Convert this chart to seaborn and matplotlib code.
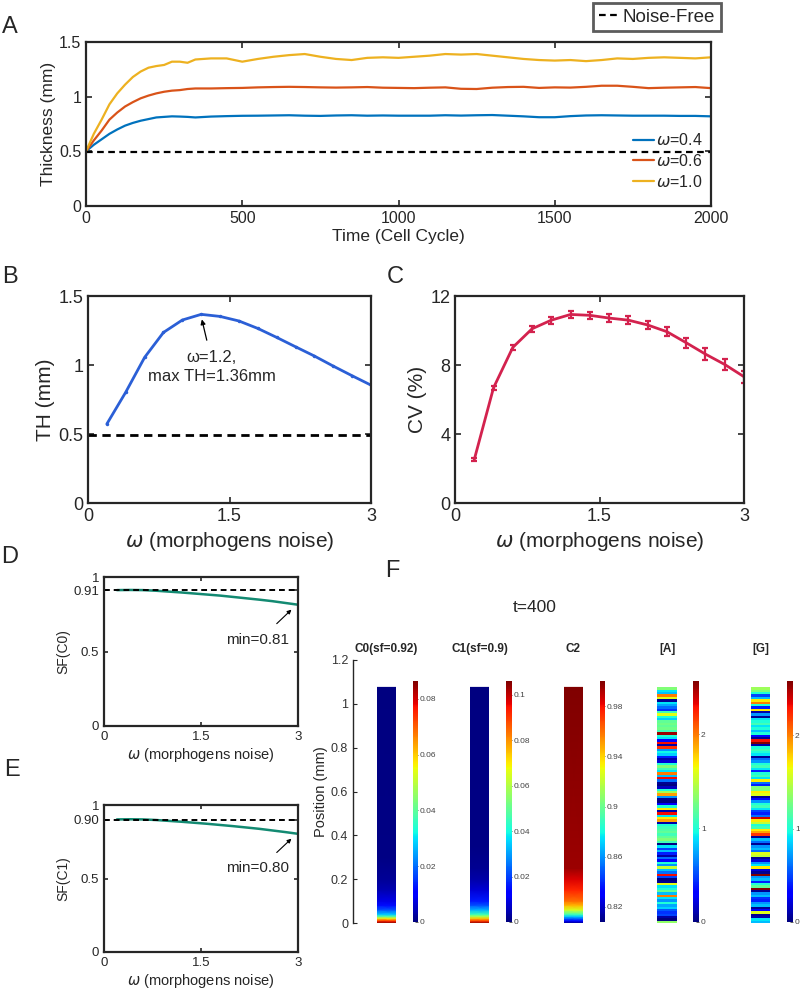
import numpy as np
import matplotlib
matplotlib.use('Agg')
import matplotlib.pyplot as plt
from matplotlib.lines import Line2D
from matplotlib.cm import ScalarMappable
from matplotlib.colors import Normalize
import seaborn as sns

# ─── Data ─────────────────────────────────────────────────────────────────────
# Panel A: thickness over time for three noise levels
time_a = [0, 25, 50, 75, 100, 125, 150, 175, 200, 225, 250, 275, 300, 325, 350,
          400, 450, 500, 550, 600, 650, 700, 750, 800, 850, 900, 950, 1000,
          1050, 1100, 1150, 1200, 1250, 1300, 1350, 1400, 1450, 1500, 1550,
          1600, 1650, 1700, 1750, 1800, 1850, 1900, 1950, 2000]
th_w04 = [0.50, 0.56, 0.61, 0.66, 0.70, 0.735, 0.76, 0.78, 0.795, 0.81, 0.815,
          0.82, 0.818, 0.815, 0.81, 0.818, 0.822, 0.825, 0.826, 0.828, 0.83,
          0.826, 0.824, 0.828, 0.83, 0.826, 0.828, 0.826, 0.826, 0.826, 0.83,
          0.827, 0.83, 0.832, 0.826, 0.82, 0.812, 0.812, 0.822, 0.828, 0.83,
          0.828, 0.826, 0.826, 0.826, 0.824, 0.824, 0.82]
th_w06 = [0.50, 0.60, 0.69, 0.79, 0.855, 0.91, 0.95, 0.985, 1.01, 1.03, 1.045,
          1.055, 1.06, 1.07, 1.075, 1.075, 1.078, 1.08, 1.085, 1.088, 1.09,
          1.088, 1.085, 1.083, 1.085, 1.088, 1.082, 1.08, 1.078, 1.082, 1.085,
          1.072, 1.07, 1.082, 1.088, 1.09, 1.08, 1.085, 1.083, 1.09, 1.10,
          1.10, 1.09, 1.078, 1.082, 1.085, 1.088, 1.078]
th_w10 = [0.50, 0.66, 0.79, 0.93, 1.03, 1.11, 1.18, 1.23, 1.265, 1.28, 1.29,
          1.32, 1.32, 1.31, 1.34, 1.35, 1.35, 1.32, 1.345, 1.365, 1.38, 1.39,
          1.365, 1.345, 1.335, 1.355, 1.36, 1.355, 1.365, 1.375, 1.39, 1.385,
          1.39, 1.375, 1.36, 1.345, 1.335, 1.33, 1.335, 1.325, 1.335, 1.35,
          1.345, 1.355, 1.36, 1.355, 1.35, 1.36]
noise_free_th = 0.49

# Panels B-E: sweep over omega
omega = [0.2, 0.4, 0.6, 0.8, 1.0, 1.2, 1.4, 1.6, 1.8, 2.0, 2.2, 2.4, 2.6, 2.8, 3.0]
th_mean = [0.573, 0.803, 1.055, 1.236, 1.326, 1.367, 1.352, 1.319, 1.265, 1.20,
           1.132, 1.065, 0.992, 0.922, 0.854]
cv_mean = [2.52, 6.68, 9.02, 10.10, 10.60, 10.93, 10.88, 10.72, 10.60, 10.32,
           9.93, 9.29, 8.63, 8.03, 7.32]
cv_err = [0.10, 0.12, 0.15, 0.18, 0.20, 0.20, 0.20, 0.22, 0.25, 0.22, 0.25,
          0.30, 0.35, 0.30, 0.35]
sf_c0 = [0.912, 0.913, 0.912, 0.908, 0.902, 0.896, 0.889, 0.882, 0.875, 0.866,
         0.857, 0.848, 0.838, 0.826, 0.814]
sf_c1 = [0.902, 0.903, 0.902, 0.898, 0.892, 0.886, 0.879, 0.872, 0.864, 0.856,
         0.847, 0.838, 0.827, 0.816, 0.804]
sf_c0_ref = 0.91
sf_c1_ref = 0.90

# Panel F: profiles at t=400 (position in mm, value)
bar_top = 1.075
c0_pos = [0, 0.01, 0.02, 0.03, 0.04, 0.06, 0.08, 0.10, 0.15, 0.20, 0.30, 1.075]
c0_val = [0.086, 0.075, 0.058, 0.040, 0.028, 0.018, 0.012, 0.008, 0.004, 0.002, 0.0005, 0.0]
c1_pos = [0, 0.01, 0.02, 0.03, 0.04, 0.06, 0.08, 0.10, 0.15, 0.20, 0.25, 0.35, 1.075]
c1_val = [0.105, 0.090, 0.075, 0.060, 0.045, 0.032, 0.022, 0.016, 0.008, 0.004, 0.002, 0.0005, 0.0]
c2_pos = [0, 0.01, 0.02, 0.03, 0.04, 0.06, 0.08, 0.10, 0.15, 0.20, 0.25, 1.075]
c2_val = [0.81, 0.83, 0.85, 0.87, 0.89, 0.925, 0.945, 0.96, 0.975, 0.985, 0.995, 1.0]
# [A] and [G] per cell, listed from top of tissue to bottom
cell_a = [1.3, 0.9, 0.8, 2.0, 1.6, 0.05, 0.9, 0.75, 0.6, 0.45,
          1.1, 1.6, 1.0, 0.85, 1.2, 1.25, 1.2, 1.25, 1.1, 2.5,
          1.0, 0.9, 0.3, 2.3, 0.1, 2.2, 0.7, 0.95, 0.85, 0.4,
          0.1, 0.2, 1.0, 1.3, 1.1, 0.9, 2.0, 0.8, 2.3, 0.6,
          0.05, 0.0, 0.15, 1.0, 1.4, 1.9, 0.7, 0.05, 0.0, 0.3,
          1.0, 1.7, 0.1, 2.3, 0.9, 1.7, 1.9, 0.1, 1.0, 1.1,
          1.15, 1.2, 1.1, 1.2, 1.3, 1.1, 0.0, 0.9, 0.5, 0.8,
          0.4, 0.1, 0.6, 0.3, 1.0, 0.7, 1.5, 0.8, 0.6, 2.3,
          0.5, 0.0, 0.05, 1.6, 0.9, 1.0, 1.2, 0.8, 2.0, 0.9,
          0.7, 1.0, 0.75, 0.85, 0.55, 0.45, 0.5, 0.1, 0.0, 1.35]
cell_g = [1.4, 1.3, 1.0, 0.5, 0.8, 1.7, 2.0, 1.0, 0.4, 1.7,
          0.1, 0.7, 0.05, 0.9, 1.0, 1.1, 0.9, 1.0, 0.8, 1.0,
          0.3, 0.05, 2.3, 2.6, 0.1, 1.0, 1.1, 1.0, 0.9, 0.05,
          0.6, 0.7, 1.0, 1.1, 0.9, 0.4, 1.0, 1.1, 0.9, 1.7,
          0.6, 0.4, 1.3, 1.3, 1.7, 1.6, 0.05, 0.3, 0.7, 1.0,
          1.1, 0.9, 0.5, 0.4, 0.6, 2.4, 1.7, 1.5, 1.0, 1.1,
          1.7, 1.9, 2.2, 0.05, 0.8, 0.6, 0.05, 0.7, 0.8, 0.6,
          1.6, 1.5, 0.05, 0.2, 0.7, 0.9, 1.7, 0.2, 0.05, 2.6,
          0.7, 0.8, 0.4, 1.0, 1.2, 2.6, 0.05, 0.7, 0.8, 0.45,
          0.4, 0.7, 0.8, 0.05, 0.3, 1.6, 0.05, 0.1, 0.9, 0.8]

# ─── Style ────────────────────────────────────────────────────────────────────
sns.set_style('ticks')
plt.rcParams['font.family'] = ['Liberation Sans', 'DejaVu Sans']
plt.rcParams['mathtext.fontset'] = 'dejavusans'
plt.rcParams['xtick.direction'] = 'in'
plt.rcParams['ytick.direction'] = 'in'
plt.rcParams['xtick.top'] = True
plt.rcParams['ytick.right'] = True
plt.rcParams['axes.edgecolor'] = '#262626'
plt.rcParams['xtick.color'] = '#262626'
plt.rcParams['ytick.color'] = '#262626'

W, H = 800, 994
fig = plt.figure(figsize=(W / 100, H / 100), dpi=100)


def place(l, t, r, b):
    return fig.add_axes([l / W, 1 - b / H, (r - l) / W, (b - t) / H])


def box_style(ax, fs):
    for s in ax.spines.values():
        s.set_linewidth(1.6)
    ax.tick_params(labelsize=fs, width=1.2, length=4)


C_BLUE, C_RED, C_YEL = '#0072BD', '#D95319', '#EDB120'
C_B = '#2B5FD6'
C_C = '#D3224E'
C_SF = '#138A72'
DASH = (3, 2)

# ─── Panel A ──────────────────────────────────────────────────────────────────
axA = place(86, 42, 711, 206)
for vals, col, lab in [(th_w04, C_BLUE, r'$\omega$=0.4'),
                       (th_w06, C_RED, r'$\omega$=0.6'),
                       (th_w10, C_YEL, r'$\omega$=1.0')]:
    sns.lineplot(x=time_a, y=vals, ax=axA, color=col, lw=1.6, label=lab)
axA.axhline(noise_free_th, color='k', lw=1.6, dashes=DASH)
axA.set_xlim(0, 2000)
axA.set_ylim(0, 1.5)
axA.set_xticks([0, 500, 1000, 1500, 2000])
axA.set_yticks([0, 0.5, 1, 1.5])
axA.set_yticklabels(['0', '0.5', '1', '1.5'])
axA.set_xlabel('Time (Cell Cycle)', fontsize=12.5, labelpad=2)
axA.set_ylabel('Thickness (mm)', fontsize=12.5, labelpad=2)
box_style(axA, 11.5)
axA.legend(loc='lower right', bbox_to_anchor=(1.0, 0.05), frameon=False,
           fontsize=11.5, handlelength=1.3, handletextpad=0.15, labelspacing=0.3,
           borderaxespad=0.1)

fig.legend(handles=[Line2D([], [], color='k', lw=1.6, dashes=DASH)],
           labels=['Noise-Free'], loc='upper right',
           bbox_to_anchor=(721 / W, 1 - 3 / H), fontsize=13.5, frameon=True,
           fancybox=False, edgecolor='#333333', handlelength=1.1,
           handletextpad=0.2, borderpad=0.3, borderaxespad=0)
fig.legends[0].get_frame().set_linewidth(2)

# ─── Panel B ──────────────────────────────────────────────────────────────────
axB = place(88, 296, 371, 503)
sns.lineplot(x=omega, y=th_mean, ax=axB, color=C_B, lw=2, marker='o', ms=2.5,
             markeredgewidth=0)
axB.axhline(noise_free_th, color='k', lw=2, dashes=DASH)
axB.set_xlim(0, 3)
axB.set_ylim(0, 1.5)
axB.set_xticks([0, 1.5, 3])
axB.set_xticklabels(['0', '1.5', '3'])
axB.set_yticks([0, 0.5, 1, 1.5])
axB.set_yticklabels(['0', '0.5', '1', '1.5'])
axB.set_xlabel(r'$\omega$ (morphogens noise)', fontsize=15)
axB.set_ylabel('TH (mm)', fontsize=15, labelpad=2)
box_style(axB, 13)
axB.annotate('', xy=(1.2, 1.35), xytext=(1.266, 1.16),
             arrowprops=dict(arrowstyle='-|>', color='k', lw=0.9,
                             mutation_scale=7))
axB.text(1.31, 1.055, 'ω=1.2,', ha='center', va='center', fontsize=12)
axB.text(1.31, 0.915, 'max TH=1.36mm', ha='center', va='center', fontsize=12)

# ─── Panel C ──────────────────────────────────────────────────────────────────
axC = place(455, 296, 744, 503)
sns.lineplot(x=omega, y=cv_mean, ax=axC, color=C_C, lw=2)
axC.errorbar(omega, cv_mean, yerr=cv_err, fmt='none', ecolor=C_C, elinewidth=1.6,
             capsize=2.5, capthick=1.6)
axC.set_xlim(0, 3)
axC.set_ylim(0, 12)
axC.set_xticks([0, 1.5, 3])
axC.set_xticklabels(['0', '1.5', '3'])
axC.set_yticks([0, 4, 8, 12])
axC.set_xlabel(r'$\omega$ (morphogens noise)', fontsize=15)
axC.set_ylabel('CV (%)', fontsize=15, labelpad=2)
box_style(axC, 13)

# ─── Panels D, E ──────────────────────────────────────────────────────────────
for (t, b), vals, ref, ylab, reflab, minlab in [
        ((577, 726), sf_c0, sf_c0_ref, 'SF(C0)', '0.91', 'min=0.81'),
        ((805, 952), sf_c1, sf_c1_ref, 'SF(C1)', '0.90', 'min=0.80')]:
    ax = place(104, t, 298, b)
    sns.lineplot(x=omega, y=vals, ax=ax, color=C_SF, lw=1.8)
    ax.axhline(ref, color='k', lw=1.4, dashes=DASH)
    ax.set_xlim(0, 3)
    ax.set_ylim(0, 1)
    ax.set_xticks([0, 1.5, 3])
    ax.set_xticklabels(['0', '1.5', '3'])
    ax.set_yticks([0, 0.5, ref, 1])
    ax.set_yticklabels(['0', '0.5', reflab, '1'])
    ax.set_xlabel(r'$\omega$ (morphogens noise)', fontsize=10.5, labelpad=2)
    ax.set_ylabel(ylab, fontsize=10, labelpad=2)
    box_style(ax, 9.5)
    ax.tick_params(length=3)
    ax.annotate('', xy=(2.93, vals[-1] - 0.02), xytext=(2.64, vals[-1] - 0.14),
                arrowprops=dict(arrowstyle='-|>', color='k', lw=0.8,
                                mutation_scale=6))
    ax.text(2.37, vals[-1] - 0.235, minlab, ha='center', va='center', fontsize=11)

# ─── Panel F ──────────────────────────────────────────────────────────────────
axP = place(353, 660, 355, 923)
axP.set_ylim(0, 1.2)
axP.set_yticks([0, 0.2, 0.4, 0.6, 0.8, 1.0, 1.2])
axP.set_yticklabels(['0', '0.2', '0.4', '0.6', '0.8', '1', '1.2'])
for s in ['top', 'right', 'bottom']:
    axP.spines[s].set_visible(False)
axP.spines['left'].set_linewidth(1.0)
axP.set_xticks([])
axP.tick_params(axis='y', labelsize=9, right=False, length=3, width=0.8,
                labelcolor='#333333')
axP.set_ylabel('Position (mm)', fontsize=10.5, labelpad=2)

bars = [
    ('C0(sf=0.92)', (377, 396), (413, 418), 'grad', (c0_pos, c0_val), (0, 0.0864),
     [0, 0.02, 0.04, 0.06, 0.08], ['0', '0.02', '0.04', '0.06', '0.08']),
    ('C1(sf=0.9)', (470, 489), (506, 512), 'grad', (c1_pos, c1_val), (0, 0.106),
     [0, 0.02, 0.04, 0.06, 0.08, 0.1], ['0', '0.02', '0.04', '0.06', '0.08', '0.1']),
    ('C2', (564, 583), (600, 605), 'grad', (c2_pos, c2_val), (0.808, 1.0),
     [0.82, 0.86, 0.9, 0.94, 0.98], ['0.82', '0.86', '0.9', '0.94', '0.98']),
    ('[A]', (657, 677), (693, 699), 'cells', cell_a, (0, 2.565),
     [0, 1, 2], ['0', '1', '2']),
    ('[G]', (751, 770), (787, 793), 'cells', cell_g, (0, 2.58),
     [0, 1, 2], ['0', '1', '2']),
]
for title, (bl, br), (cl, cr), kind, data, (vmin, vmax), cticks, clabels in bars:
    ax = place(bl, 660, br, 923)
    ax.set_xlim(0, 1)
    ax.set_ylim(0, 1.2)
    ax.axis('off')
    if kind == 'grad':
        pos, val = np.array(data[0]), np.array(data[1])
        X = np.column_stack([np.zeros_like(pos), np.ones_like(pos)])
        Y = np.column_stack([pos, pos])
        Cv = np.column_stack([val, val])
        ax.pcolormesh(X, Y, Cv, shading='gouraud', cmap='jet', vmin=vmin, vmax=vmax)
    else:
        vals = np.array(data[::-1])
        edges = np.linspace(0, bar_top, len(vals) + 1)
        ax.pcolormesh([0, 1], edges, vals[:, None], cmap='jet', vmin=vmin, vmax=vmax)
    fig.text((bl + br) / 2 / W, 1 - 649 / H, title, ha='center', va='center',
             fontsize=8.5, fontweight='bold')
    cax = place(cl, 681, cr, 922)
    cb = fig.colorbar(ScalarMappable(norm=Normalize(vmin, vmax), cmap='jet'), cax=cax)
    cb.outline.set_visible(False)
    cb.set_ticks(cticks)
    cb.set_ticklabels(clabels)
    cax.tick_params(labelsize=6, length=2, width=0.6, direction='in',
                    colors='#444444', pad=1.5)

fig.text(535 / W, 1 - 607 / H, 't=400', ha='center', va='center', fontsize=12.5)

# ─── Panel letters ────────────────────────────────────────────────────────────
for letter, x, y in [('A', 10, 27), ('B', 10, 277), ('C', 395, 277),
                     ('D', 10, 557), ('E', 12, 770), ('F', 392, 571)]:
    fig.text(x / W, 1 - y / H, letter, ha='center', va='center', fontsize=17)

plt.savefig('out.png', dpi=100)
plt.close()
